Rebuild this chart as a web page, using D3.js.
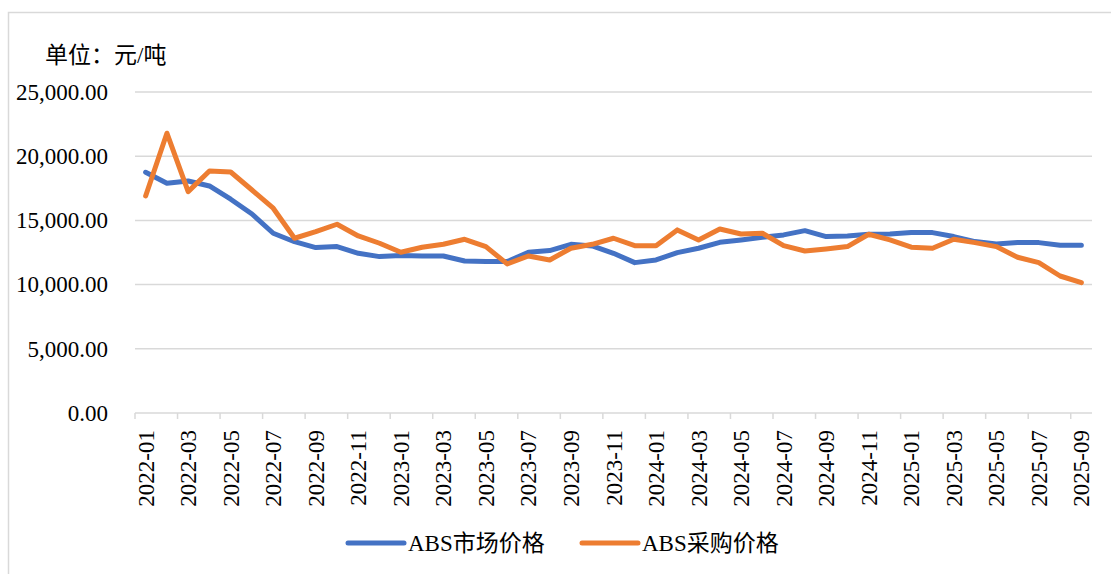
<!DOCTYPE html>
<html>
<head>
<meta charset="utf-8">
<script src="https://cdn.jsdelivr.net/npm/d3@7"></script>
<style>
  body { margin: 0; background: #fff; }
  svg text { font-family: "Liberation Serif", "Times New Roman", "Noto Sans CJK SC", serif; fill: #000; }
</style>
</head>
<body>
<svg id="chart" width="1111" height="574"></svg>
<script>
// months on the x axis
var months = [
  "2022-01","2022-02","2022-03","2022-04","2022-05","2022-06","2022-07","2022-08","2022-09","2022-10","2022-11","2022-12",
  "2023-01","2023-02","2023-03","2023-04","2023-05","2023-06","2023-07","2023-08","2023-09","2023-10","2023-11","2023-12",
  "2024-01","2024-02","2024-03","2024-04","2024-05","2024-06","2024-07","2024-08","2024-09","2024-10","2024-11","2024-12",
  "2025-01","2025-02","2025-03","2025-04","2025-05","2025-06","2025-07","2025-08","2025-09"
];

// ABS市场价格
var marketPrice = [
  18750, 17890, 18070, 17680, 16650, 15500, 14000, 13340, 12880, 12960, 12440, 12180,
  12260, 12230, 12230, 11840, 11800, 11790, 12520, 12650, 13140, 13010, 12440, 11710,
  11920, 12490, 12830, 13290, 13480, 13690, 13870, 14200, 13740, 13790, 13920, 13940,
  14050, 14050, 13740, 13350, 13170, 13270, 13270, 13060, 13060
];

// ABS采购价格
var purchasePrice = [
  16900, 21790, 17240, 18850, 18770, 17370, 15950, 13610, 14120, 14700, 13790, 13220,
  12520, 12910, 13140, 13530, 12960, 11610, 12230, 11920, 12830, 13140, 13610, 13030,
  13030, 14260, 13480, 14330, 13940, 14000, 13030, 12620, 12780, 12960, 13920, 13480,
  12910, 12830, 13530, 13270, 12960, 12130, 11710, 10670, 10150
];

var yTicks = [0, 5000, 10000, 15000, 20000, 25000];

var series = [
  {name: "ABS市场价格", values: marketPrice, color: "#4472C4"},
  {name: "ABS采购价格", values: purchasePrice, color: "#ED7D31"}
];

var svg = d3.select("#chart");
var fontSize = 23;

// chart area border (only top and left show in frame)
svg.append("rect")
  .attr("x", 8.5).attr("y", 12.5)
  .attr("width", 1300).attr("height", 700)
  .attr("fill", "none")
  .attr("stroke", "#d9d9d9")
  .attr("stroke-width", 1.5);

var x = d3.scaleBand()
  .domain(months)
  .range([135, 1092])
  .padding(0);

var y = d3.scaleLinear()
  .domain([0, 25000])
  .range([413, 92]);

// gridlines
svg.append("g")
  .selectAll("line")
  .data(yTicks.slice(1))
  .join("line")
  .attr("x1", 135).attr("x2", 1092)
  .attr("y1", function(d){ return y(d); })
  .attr("y2", function(d){ return y(d); })
  .attr("stroke", "#d9d9d9")
  .attr("stroke-width", 1.5);

// y axis labels
var yAxis = d3.axisLeft(y)
  .tickValues(yTicks)
  .tickSize(0)
  .tickPadding(0)
  .tickFormat(d3.format(",.2f"));

svg.append("g")
  .attr("transform", "translate(108,0)")
  .call(yAxis)
  .call(function(g){ g.select(".domain").remove(); })
  .selectAll("text")
  .attr("font-size", fontSize)
  .attr("font-family", null);

// x axis: line + ticks on category boundaries
var xAxisG = svg.append("g");
xAxisG.append("line")
  .attr("x1", 135).attr("x2", 1092)
  .attr("y1", y(0)).attr("y2", y(0))
  .attr("stroke", "#d9d9d9")
  .attr("stroke-width", 1.5);

var tickMonths = months.filter(function(d, i){ return i % 2 == 0; });

xAxisG.selectAll("line.tick")
  .data(tickMonths)
  .join("line")
  .attr("class", "tick")
  .attr("x1", function(d){ return x(d); })
  .attr("x2", function(d){ return x(d); })
  .attr("y1", y(0)).attr("y2", y(0) + 6)
  .attr("stroke", "#d9d9d9")
  .attr("stroke-width", 1.5);

xAxisG.selectAll("text")
  .data(tickMonths)
  .join("text")
  .attr("transform", function(d){
    return "translate(" + (x(d) + x.bandwidth() / 2) + ",430) rotate(-90)";
  })
  .attr("text-anchor", "end")
  .attr("dy", "0.35em")
  .attr("font-size", fontSize)
  .text(function(d){ return d; });

// lines
var line = d3.line()
  .x(function(d, i){ return x(months[i]) + x.bandwidth() / 2; })
  .y(function(d){ return y(d); });

svg.append("g")
  .selectAll("path")
  .data(series)
  .join("path")
  .attr("d", function(s){ return line(s.values); })
  .attr("fill", "none")
  .attr("stroke", function(s){ return s.color; })
  .attr("stroke-width", 5)
  .attr("stroke-linejoin", "round")
  .attr("stroke-linecap", "round");

// unit label
svg.append("text")
  .attr("x", 45).attr("y", 55)
  .attr("dy", "0.35em")
  .attr("font-size", fontSize)
  .text("单位：元/吨");

// legend
var legendX = [348, 582];
var legend = svg.append("g")
  .selectAll("g")
  .data(series)
  .join("g")
  .attr("transform", function(d, i){ return "translate(" + legendX[i] + ",543)"; });

legend.append("line")
  .attr("x1", 0).attr("x2", 56)
  .attr("stroke", function(d){ return d.color; })
  .attr("stroke-width", 5)
  .attr("stroke-linecap", "round");

legend.append("text")
  .attr("x", 60)
  .attr("dy", "0.35em")
  .attr("font-size", fontSize)
  .text(function(d){ return d.name; });
</script>
</body>
</html>
